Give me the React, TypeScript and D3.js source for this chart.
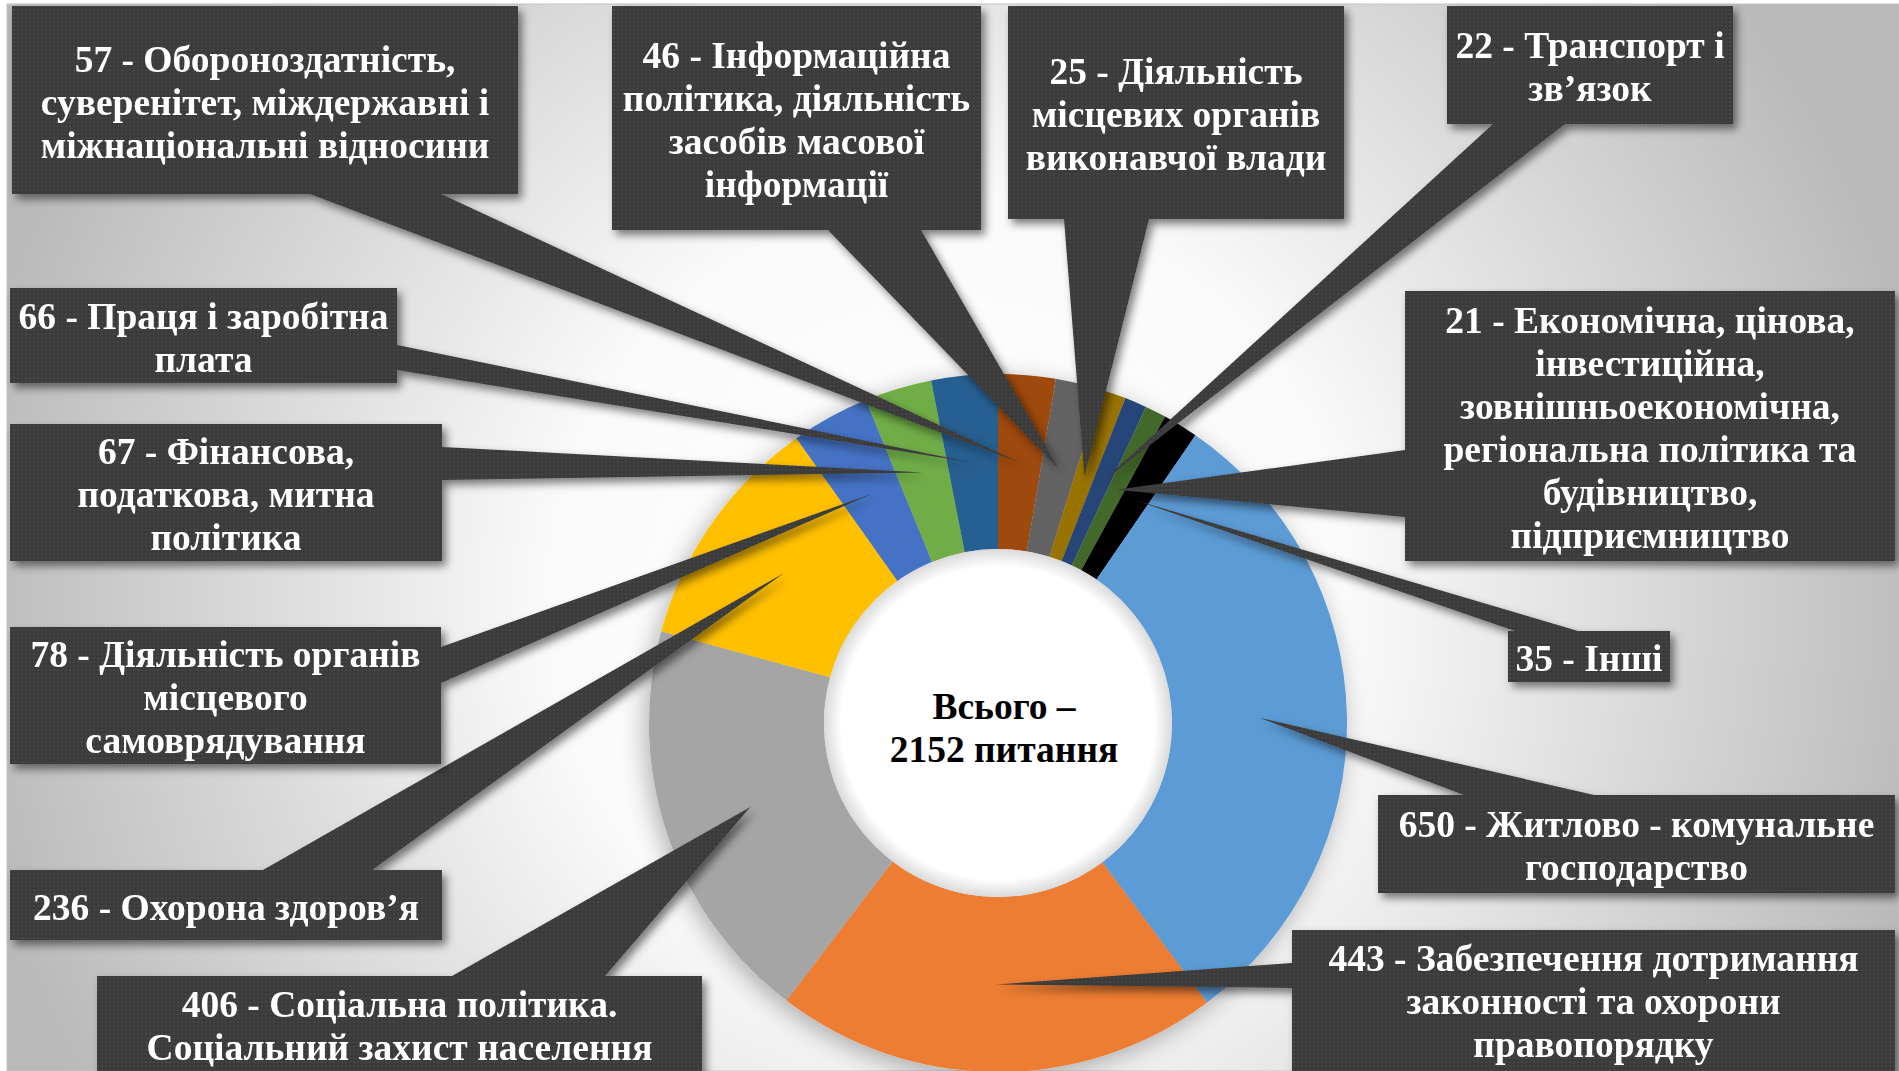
import React from 'react'
import * as d3 from 'd3'

// values in the order the ring is drawn, clockwise from 12 o'clock
const values = [57, 46, 25, 22, 21, 35, 650, 443, 406, 236, 78, 67, 66]

const nameLines = [
  ['Обороноздатність,', 'суверенітет, міждержавні і', 'міжнаціональні відносини'],
  ['Інформаційна', 'політика, діяльність', 'засобів масової', 'інформації'],
  ['Діяльність', 'місцевих органів', 'виконавчої влади'],
  ['Транспорт і', 'зв’язок'],
  ['Економічна, цінова,', 'інвестиційна,', 'зовнішньоекономічна,', 'регіональна політика та', 'будівництво,', 'підприємництво'],
  ['Інші'],
  ['Житлово - комунальне', 'господарство'],
  ['Забезпечення дотримання', 'законності та охорони', 'правопорядку'],
  ['Соціальна політика.', 'Соціальний захист населення'],
  ['Охорона здоров’я'],
  ['Діяльність органів', 'місцевого', 'самоврядування'],
  ['Фінансова,', 'податкова, митна', 'політика'],
  ['Праця і заробітна', 'плата'],
]

const colors = [
  '#9E480E', '#636363', '#997300', '#264478', '#43682B', '#000000',
  '#5B9BD5', '#ED7D31', '#A5A5A5', '#FFC000', '#4472C4', '#70AD47', '#255E91',
]

const totalWord = 'Всього –'
const totalUnit = 'питання'

// callout boxes: box rect + the two points where the pointer leaves the box
const boxes = [
  { x: 12, y: 6, w: 506, h: 188, b: [[310, 194], [441, 194]] },
  { x: 612, y: 6, w: 369, h: 224, b: [[828, 230], [921, 230]] },
  { x: 1008, y: 6, w: 336, h: 213, b: [[1064, 219], [1149, 219]] },
  { x: 1447, y: 6, w: 286, h: 118, b: [[1493, 124], [1565, 124]] },
  { x: 1405, y: 291, w: 490, h: 270, b: [[1405, 450], [1405, 517]] },
  { x: 1508, y: 631, w: 162, h: 51, b: [[1515, 631], [1578, 631]] },
  { x: 1378, y: 795, w: 517, h: 98, b: [[1464, 795], [1594, 795]] },
  { x: 1292, y: 930, w: 603, h: 138, b: [[1292, 963], [1292, 988]] },
  { x: 97, y: 976, w: 605, h: 96, b: [[452, 976], [605, 976]] },
  { x: 10, y: 870, w: 432, h: 70, b: [[263, 870], [372, 870]] },
  { x: 10, y: 627, w: 431, h: 137, b: [[441, 647], [441, 683]] },
  { x: 10, y: 424, w: 432, h: 137, b: [[442, 447], [442, 480]] },
  { x: 10, y: 288, w: 387, h: 95, b: [[397, 345], [397, 370]] },
]

const W = 1899
const H = 1071
const cx = 998
const cy = 723
const outerR = 349
const innerR = 174
const fontSize = 37.5
const lineH = 43
const serif = "'Liberation Serif', 'Times New Roman', Tinos, serif"

export default function App() {
  const pie = d3.pie<number>().sort(null).value((d) => d)
  const arcs = pie(values)
  const arc = d3.arc<d3.PieArcDatum<number>>().innerRadius(innerR).outerRadius(outerR)
  const total = d3.sum(values)

  return (
    <svg
      width={W}
      height={H}
      style={{ position: 'absolute', left: 0, top: 0, fontFamily: serif }}
    >
      <defs>
        <radialGradient id="bg" gradientUnits="userSpaceOnUse" cx={950} cy={600} r={1000}>
          <stop offset="0" stopColor="#ffffff" />
          <stop offset="0.4" stopColor="#fafafa" />
          <stop offset="1" stopColor="#b9b9b9" />
        </radialGradient>
        <radialGradient id="hole" cx="0.5" cy="0.5" r="0.5">
          <stop offset="0" stopColor="#ffffff" />
          <stop offset="0.9" stopColor="#ffffff" />
          <stop offset="1" stopColor="#dadada" />
        </radialGradient>
        <pattern id="dots" width="4" height="4" patternUnits="userSpaceOnUse">
          <rect width="4" height="4" fill="#3b3b3b" />
          <rect x="1.5" y="1.5" width="1.2" height="1.2" fill="#555555" />
        </pattern>
        <filter id="boxShadow" x="-20%" y="-20%" width="140%" height="140%">
          <feDropShadow dx="4" dy="5" stdDeviation="4" floodColor="#000" floodOpacity="0.5" />
        </filter>
        <filter id="ringShadow" x="-20%" y="-20%" width="140%" height="140%">
          <feDropShadow dx="-4" dy="6" stdDeviation="12" floodColor="#000" floodOpacity="0.3" />
        </filter>
      </defs>

      <rect width={W} height={H} fill="#ffffff" />
      <rect x={7} y={4} width={W - 7} height={H - 4} fill="url(#bg)" stroke="#c4c4c4" strokeWidth={1} />

      <g transform={`translate(${cx},${cy})`}>
        <g filter="url(#ringShadow)">
          {arcs.map((a, i) => (
            <path key={i} d={arc(a) || ''} fill={colors[i]} />
          ))}
        </g>
        <circle r={innerR} fill="url(#hole)" />
        <text
          style={{ fontFamily: serif, fontWeight: 700, fontSize }}
          textAnchor="middle"
          fill="#000"
        >
          <tspan x={6} y={-17} dominantBaseline="central">{totalWord}</tspan>
          <tspan x={6} y={26} dominantBaseline="central">{`${total} ${totalUnit}`}</tspan>
        </text>
      </g>

      {arcs.map((a, i) => {
        const bx = boxes[i]
        const [tx, ty] = arc.centroid(a)
        const tip = [cx + tx, cy + ty]
        const lines = nameLines[i].map((l, j) => (j === 0 ? `${values[i]} - ${l}` : l))
        const midY = bx.y + bx.h / 2 + 2
        // boxes at the bottom run off the slide
        const rectH = bx.y + bx.h > H - 10 ? bx.h + 40 : bx.h
        return (
          <g key={i} filter="url(#boxShadow)">
            <polygon
              points={[bx.b[0], bx.b[1], tip].map((p) => p.join(',')).join(' ')}
              fill="url(#dots)"
            />
            <rect x={bx.x} y={bx.y} width={bx.w} height={rectH} fill="url(#dots)" />
            <text
              style={{ fontFamily: serif, fontWeight: 700, fontSize }}
              textAnchor="middle"
              fill="#ffffff"
            >
              {lines.map((l, j) => (
                <tspan
                  key={j}
                  x={bx.x + bx.w / 2}
                  y={midY + (j - (lines.length - 1) / 2) * lineH}
                  dominantBaseline="central"
                >
                  {l}
                </tspan>
              ))}
            </text>
          </g>
        )
      })}
    </svg>
  )
}
